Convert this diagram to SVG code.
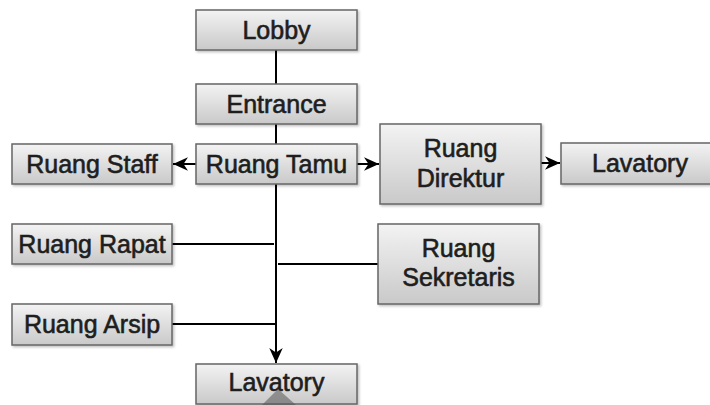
<svg xmlns="http://www.w3.org/2000/svg" width="710" height="405" viewBox="0 0 710 405">
<defs>
<linearGradient id="g" x1="0" y1="0" x2="0" y2="1">
<stop offset="0" stop-color="#f3f3f3"/>
<stop offset="1" stop-color="#c9c9c9"/>
</linearGradient>
<filter id="sh" x="-10%" y="-10%" width="120%" height="130%">
<feDropShadow dx="1.5" dy="1.5" stdDeviation="0.8" flood-color="#000" flood-opacity="0.25"/>
</filter>
<marker id="arr" viewBox="0 0 10 10" refX="10" refY="5" markerWidth="7.5" markerHeight="7.5" markerUnits="strokeWidth" orient="auto">
<path d="M0,0.5 L10,5 L0,9.5 L3,5 Z" fill="#000"/>
</marker>
</defs>
<style>
.box{fill:url(#g);stroke:#666;stroke-width:1.5;filter:url(#sh)}
.t{font-family:"Liberation Sans",Arial,sans-serif;font-size:25px;fill:#1e1e1e;stroke:#1e1e1e;stroke-width:0.6;text-anchor:middle}
.c{fill:none;stroke:#000;stroke-width:2}
</style>
<g id="connectors">
<line class="c" x1="276" y1="50" x2="276" y2="84"/>
<line class="c" x1="276" y1="124" x2="276" y2="144"/>
<line class="c" x1="196" y1="164" x2="173" y2="164" marker-end="url(#arr)"/>
<line class="c" x1="357" y1="164" x2="379" y2="164" marker-end="url(#arr)"/>
<line class="c" x1="541" y1="163" x2="560" y2="163" marker-end="url(#arr)"/>
<line class="c" x1="276" y1="184" x2="276" y2="363" marker-end="url(#arr)"/>
<line class="c" x1="172" y1="244" x2="274" y2="244"/>
<line class="c" x1="278" y1="264" x2="378" y2="264"/>
<line class="c" x1="172" y1="324" x2="276" y2="324"/>
</g>
<g id="lobby"><rect class="box" x="196" y="10" width="161" height="40"/><text class="t" x="276.5" y="38.5">Lobby</text></g>
<g id="entrance"><rect class="box" x="196" y="84" width="161" height="40"/><text class="t" x="276.5" y="112.5">Entrance</text></g>
<g id="ruang-tamu"><rect class="box" x="196" y="144" width="161" height="40"/><text class="t" x="276.5" y="172.5">Ruang Tamu</text></g>
<g id="ruang-staff"><rect class="box" x="12" y="144" width="160" height="40"/><text class="t" x="92" y="172.5">Ruang Staff</text></g>
<g id="ruang-direktur"><rect class="box" x="380" y="124" width="161" height="80"/><text class="t" x="460.5" y="157">Ruang</text><text class="t" x="460.5" y="187">Direktur</text></g>
<g id="lavatory-right"><rect class="box" x="561" y="143" width="160" height="41"/><text class="t" x="640" y="171.5">Lavatory</text></g>
<g id="ruang-rapat"><rect class="box" x="12" y="224" width="160" height="40"/><text class="t" x="92" y="252.5">Ruang Rapat</text></g>
<g id="ruang-sekretaris"><rect class="box" x="378" y="224" width="161" height="80"/><text class="t" x="458.5" y="257">Ruang</text><text class="t" x="458.5" y="286">Sekretaris</text></g>
<g id="ruang-arsip"><rect class="box" x="12" y="304" width="160" height="41"/><text class="t" x="92" y="332.5">Ruang Arsip</text></g>
<g id="lavatory-bottom"><rect class="box" x="196" y="364" width="161" height="40"/><text class="t" x="276.5" y="391">Lavatory</text></g>
<polygon points="278,389 262,405 296,405" fill="#555" fill-opacity="0.55"/>
</svg>
